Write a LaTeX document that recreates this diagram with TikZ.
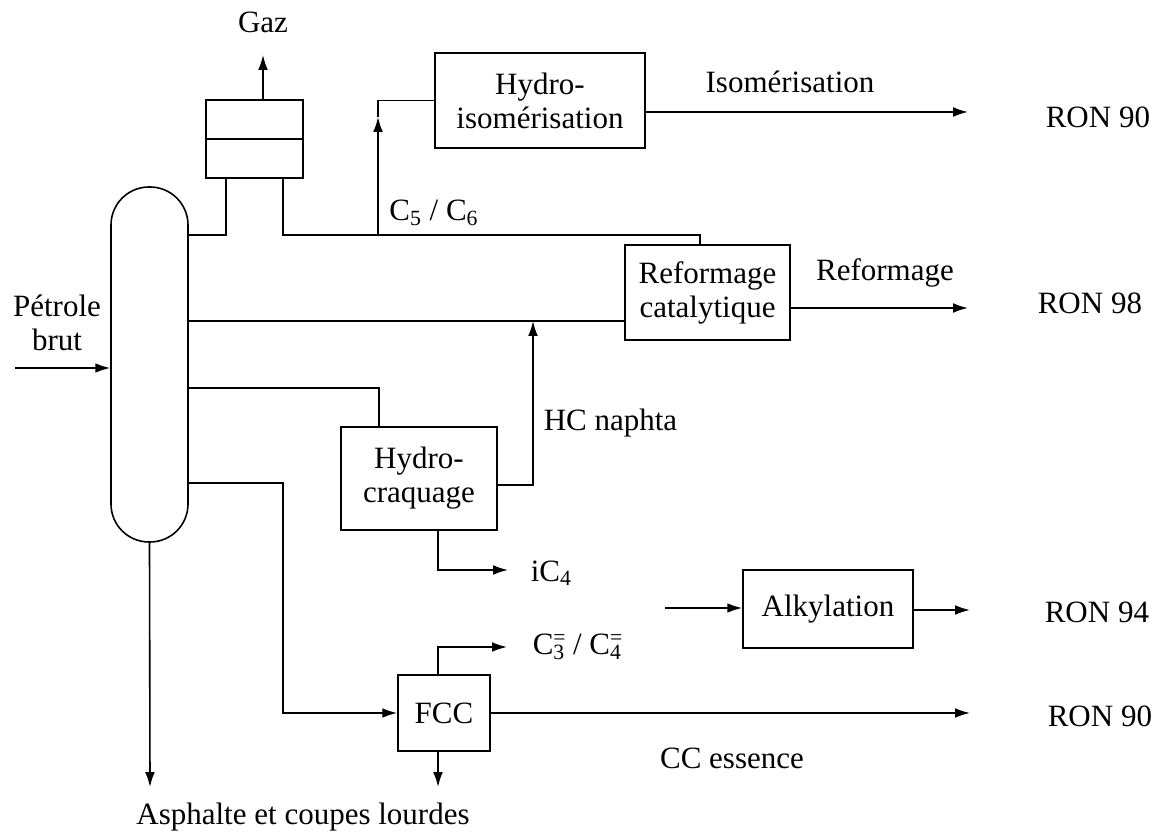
\documentclass[tikz,border=0pt]{standalone}
\usepackage{fontspec}
\setmainfont{Liberation Serif}
\usepackage{tikz}
\usetikzlibrary{arrows.meta,positioning,calc}
\newcommand{\cut}[2]{C\rlap{\textsuperscript{#2}}\textsubscript{#1}}

\begin{document}
\begin{tikzpicture}[x=0.5pt,y=-0.5pt,line width=0.8pt,
   font=\fontsize{15.5}{17}\selectfont,
   unit/.style={draw,line width=0.8pt,inner sep=2pt,align=center},
   flow/.style={-{Latex[length=2.6mm,width=1.7mm]}},
   lbl/.style={inner sep=1pt,align=center}]
  \useasboundingbox (0,0) rectangle (1157,833);
  % units
  \node[unit,rounded corners=19pt,minimum width=38.5pt,minimum height=177.5pt] (col) at (149.5,364.5) {};
  \node[unit,minimum width=48.5pt,minimum height=39pt] (drum) at (254.5,139) {};
  \draw (drum.west) -- (drum.east);
  \node[unit,minimum width=105pt,minimum height=47.5pt] (hiso) at (540,100.5) {Hydro-\\isomérisation};
  \node[unit,minimum width=82.5pt,minimum height=47.5pt] (ref) at (707.5,292.5) {Reformage\\catalytique};
  \node[unit,minimum width=78pt,minimum height=51.5pt] (hcr) at (419,478.5) {Hydro-\\craquage};
  \node[unit,minimum width=46pt,minimum height=38pt] (fcc) at (444,713) {FCC};
  \node[unit,minimum width=85pt,minimum height=39pt] (alk) at (828,609) {Alkylation};
  % labels
  \node[lbl] (gaz) at (263,22) {Gaz};
  \node[lbl] (isolab) at (790,82) {Isomérisation};
  \node[lbl] (c56) at (434,213) {C\textsubscript{5} / C\textsubscript{6}};
  \node[lbl] (reflab) at (885,273) {Reformage};
  \node[lbl,anchor=west] (hcn) at (541,423) {HC naphta};
  \node[lbl,anchor=west] (ic4) at (528,573) {iC\textsubscript{4}};
  \node[lbl,anchor=west] (c34) at (530,647) {\cut{3}{=} / \cut{4}{=}};
  \node[lbl] (ccess) at (732,758) {CC essence};
  \node[lbl] (asph) at (303,817) {Asphalte et coupes lourdes};
  \node[lbl] (brut) at (57,323) {Pétrole\\brut};
  \node[lbl,anchor=west] (ron1) at (1043,117) {RON 90};
  \node[lbl,anchor=west] (ron2) at (1035,303) {RON 98};
  \node[lbl,anchor=west] (ron3) at (1042,612) {RON 94};
  \node[lbl,anchor=west] (ron4) at (1045,716) {RON 90};
  % free ends and bends
  \coordinate (feed) at (15,368);
  \coordinate (gz) at (263,55);
  \coordinate (legA) at (226,178);
  \coordinate (legB) at (283,178);
  \coordinate (rj) at (700,235);
  \coordinate (c56j) at (378,235);
  \coordinate (c56t) at (378,117);
  \coordinate (hcnt) at (533,321);
  \coordinate (bot) at (150,787);
  \coordinate (ic4t) at (508,570);
  \coordinate (c34t) at (507,647);
  \coordinate (alkin) at (665,608);
  \coordinate (fccbot) at (438,787);
  \coordinate (fccin) at (283,600);
  \coordinate (e1) at (968,112);
  \coordinate (e2) at (968,308);
  \coordinate (e3) at (970,610);
  \coordinate (e4) at (970,713);
  % flows
  \draw[flow] (feed) -- (col.west |- feed);
  \draw[flow] (drum.north -| gz) -- (gz);
  \draw (col.east |- 0,235) -| (legA);
  \draw (legB) |- (rj) -- (rj |- ref.north);
  \draw[flow] (c56j) -- (c56t);
  \draw (c56t) |- (hiso.west);
  \draw[flow] (hiso.east |- e1) -- (e1);
  \draw (col.east |- 0,321) -- (ref.west |- 0,321);
  \draw[flow] (ref.east |- e2) -- (e2);
  \draw (col.east |- 0,388) -| (hcr.north -| 379,0);
  \draw[flow] (hcr.east |- 0,485) -| (hcnt);
  \draw[flow] (hcr.south -| 438,0) |- (ic4t);
  \draw[flow] (col.east |- 0,483) -| (fccin) |- (fcc.west);
  \draw[flow] (fcc.north -| 438,0) |- (c34t);
  \draw[flow] (fcc.south -| fccbot) -- (fccbot);
  \draw[flow] (fcc.east) -- (e4);
  \draw[flow] (alkin) -- (alk.west |- alkin);
  \draw[flow] (alk.east |- e3) -- (e3);
  \draw[flow] (col.south) -- (bot);
\end{tikzpicture}
\end{document}
